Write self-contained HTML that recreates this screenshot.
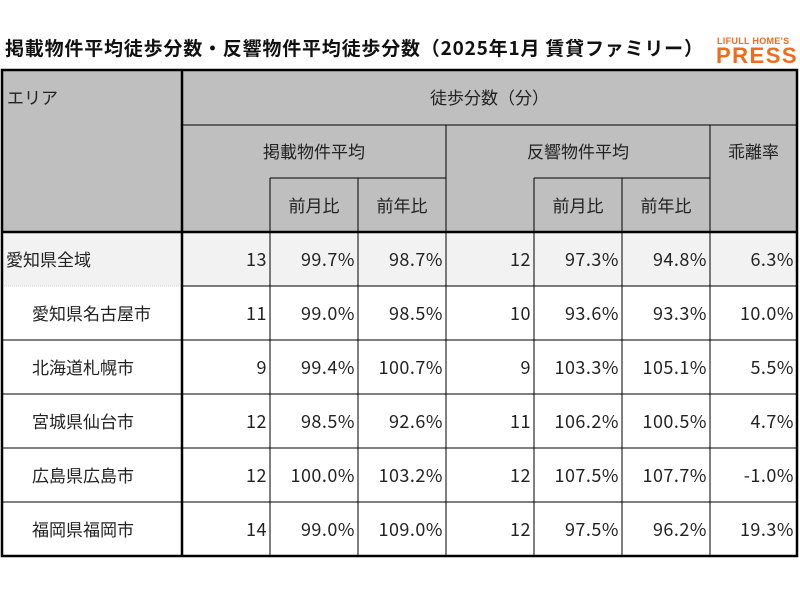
<!DOCTYPE html>
<html><head><meta charset="utf-8"><style>
body{margin:0;width:800px;height:600px;background:#fff;position:relative;overflow:hidden;font-family:"Noto Sans CJK JP","Liberation Sans",sans-serif;}
.t{position:absolute;white-space:nowrap;line-height:20px;font-size:17px;color:#222;}
.n{font-size:18px;letter-spacing:0.5px;}
</style></head><body>
<div class="t" style="left:5px;top:37px;font-size:19px;font-weight:bold;color:#111;line-height:22px;letter-spacing:0.8px;">掲載物件平均徒歩分数・反響物件平均徒歩分数（2025年1月 賃貸ファミリー）</div>
<div class="t" style="left:717px;top:36px;font-size:9px;font-weight:bold;color:#f26a1b;letter-spacing:0.3px;line-height:10px;font-family:'Liberation Sans',sans-serif;">LIFULL HOME'S</div>
<div class="t" style="left:716px;top:45px;font-size:22px;font-weight:bold;color:#f26a1b;letter-spacing:1.5px;line-height:22px;font-family:'Liberation Sans',sans-serif;">PRESS</div>

<div style="position:absolute;left:2px;top:70px;width:795px;height:162px;background:#bfbfbf;"></div>
<div style="position:absolute;left:2px;top:232px;width:795px;height:54px;background:#f2f2f2;"></div>
<svg style="position:absolute;left:0;top:0" width="800" height="600">
<g stroke="#000" stroke-width="1" fill="none">
<line x1="182" y1="125" x2="797" y2="125"/>
<line x1="270" y1="178" x2="446" y2="178"/>
<line x1="534" y1="178" x2="710" y2="178"/>
<line x1="446" y1="125" x2="446" y2="556"/>
<line x1="710" y1="125" x2="710" y2="556"/>
<line x1="270" y1="178" x2="270" y2="556"/>
<line x1="358" y1="178" x2="358" y2="556"/>
<line x1="534" y1="178" x2="534" y2="556"/>
<line x1="622" y1="178" x2="622" y2="556"/>
<line x1="182" y1="340" x2="797" y2="340"/>
<line x1="2" y1="394" x2="797" y2="394"/>
<line x1="2" y1="448" x2="797" y2="448"/>
<line x1="2" y1="502" x2="797" y2="502"/>
<line x1="182" y1="286" x2="797" y2="286"/>
</g>
<line x1="2" y1="286" x2="182" y2="286" stroke="#ccc" stroke-dasharray="1 1"/>
<line x1="2" y1="340" x2="182" y2="340" stroke="#000"/>
<g stroke="#000" stroke-width="2.5" fill="none">
<rect x="2" y="70" width="795" height="486"/>
<line x1="182" y1="70" x2="182" y2="556"/>
<line x1="2" y1="232" x2="797" y2="232"/>
</g>
</svg>
<div class="t" style="left:7px;top:87px;">エリア</div>
<div class="t" style="left:182px;width:615px;text-align:center;top:87px;">徒歩分数（分）</div>
<div class="t" style="left:182px;width:264px;text-align:center;top:141px;">掲載物件平均</div>
<div class="t" style="left:446px;width:264px;text-align:center;top:141px;">反響物件平均</div>
<div class="t" style="left:710px;width:87px;text-align:center;top:141px;">乖離率</div>
<div class="t" style="left:270px;width:88px;text-align:center;top:195px;">前月比</div>
<div class="t" style="left:358px;width:88px;text-align:center;top:195px;">前年比</div>
<div class="t" style="left:534px;width:88px;text-align:center;top:195px;">前月比</div>
<div class="t" style="left:622px;width:88px;text-align:center;top:195px;">前年比</div>
<div id="rows"></div>
<script>
var d=[["愛知県全域",6,"13","99.7%","98.7%","12","97.3%","94.8%","6.3%"],
["愛知県名古屋市",32,"11","99.0%","98.5%","10","93.6%","93.3%","10.0%"],
["北海道札幌市",32,"9","99.4%","100.7%","9","103.3%","105.1%","5.5%"],
["宮城県仙台市",32,"12","98.5%","92.6%","11","106.2%","100.5%","4.7%"],
["広島県広島市",32,"12","100.0%","103.2%","12","107.5%","107.7%","-1.0%"],
["福岡県福岡市",32,"14","99.0%","109.0%","12","97.5%","96.2%","19.3%"]];
var xs=[182,270,358,446,534,622,710,797],h="";
d.forEach(function(r,i){var y=232+i*54+17;
h+='<div class="t" style="left:'+r[1]+'px;top:'+y+'px;">'+r[0]+'</div>';
for(var j=0;j<7;j++){h+='<div class="t n" style="left:'+xs[j]+'px;width:'+(xs[j+1]-xs[j]-3)+'px;text-align:right;top:'+y+'px;">'+r[j+2]+'</div>';}});
document.getElementById('rows').innerHTML=h;
</script>
</body></html>
